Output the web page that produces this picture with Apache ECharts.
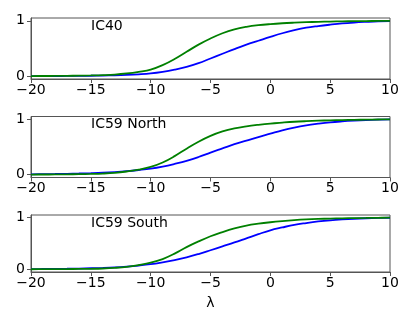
<!DOCTYPE html>
<html>
<head>
<meta charset="utf-8">
<script src="https://cdn.jsdelivr.net/npm/echarts@6/dist/echarts.min.js"></script>
<style>html,body{margin:0;padding:0;background:#fff}#c{width:415px;height:311px}</style>
</head>
<body>
<div id="c"></div>
<script>
var lambdaValues = [-20,-19,-18,-17,-16,-15,-14,-13,-12,-11,-10,-9,-8,-7,-6,-5,-4,-3,-2,-1,0,1,2,3,4,5,6,7,8,9,10];
var panelTitles = ['IC40', 'IC59 North', 'IC59 South'];
var xTicks = [-20, -15, -10, -5, 0, 5, 10];
var yTicks = [0, 1];

var ic40Blue = [0.002,0.003,0.004,0.005,0.007,0.009,0.012,0.016,0.023,0.034,0.05,0.078,0.117,0.167,0.235,0.32,0.405,0.49,0.57,0.64,0.71,0.775,0.83,0.875,0.905,0.93,0.952,0.968,0.98,0.99,0.995];
var ic40Green = [0.003,0.004,0.005,0.007,0.01,0.014,0.02,0.03,0.05,0.08,0.12,0.2,0.31,0.44,0.57,0.68,0.775,0.845,0.89,0.92,0.94,0.955,0.966,0.975,0.981,0.986,0.99,0.993,0.995,0.997,0.998];

var ic59NBlue = [0.008,0.01,0.013,0.017,0.022,0.028,0.036,0.048,0.064,0.085,0.11,0.147,0.195,0.25,0.32,0.40,0.475,0.55,0.615,0.68,0.74,0.80,0.85,0.89,0.92,0.945,0.962,0.975,0.985,0.992,0.997];
var ic59NGreen = [0.003,0.004,0.005,0.007,0.01,0.014,0.021,0.034,0.058,0.09,0.14,0.22,0.335,0.47,0.595,0.70,0.78,0.835,0.872,0.90,0.923,0.94,0.955,0.966,0.975,0.981,0.986,0.99,0.993,0.996,0.998];

var ic59SBlue = [0.006,0.008,0.01,0.013,0.017,0.022,0.029,0.039,0.054,0.074,0.1,0.137,0.18,0.232,0.297,0.37,0.445,0.52,0.60,0.68,0.755,0.81,0.86,0.895,0.925,0.948,0.965,0.978,0.987,0.993,0.997];
var ic59SGreen = [0.003,0.004,0.005,0.007,0.009,0.012,0.018,0.03,0.05,0.085,0.13,0.2,0.305,0.43,0.54,0.64,0.72,0.79,0.845,0.882,0.91,0.932,0.95,0.964,0.974,0.981,0.986,0.99,0.993,0.996,0.998];

var panels = [
  {title: panelTitles[0], blue: ic40Blue, green: ic40Green},
  {title: panelTitles[1], blue: ic59NBlue, green: ic59NGreen},
  {title: panelTitles[2], blue: ic59SBlue, green: ic59SGreen}
];

var FONT = 'DejaVu Sans';
var gridTops = [18, 116.5, 215];
var gridH = 61;

function pairs(ys) { return lambdaValues.map(function (x, i) { return [x, ys[i]]; }); }
function fmt(v) { return String(v).replace('-', '\u2212'); }

var grids = [], xAxes = [], yAxes = [], series = [], titles = [];
panels.forEach(function (p, i) {
  grids.push({left: 31, right: 25, top: gridTops[i], height: gridH, show: true, borderColor: '#555', borderWidth: 1, backgroundColor: 'transparent'});
  xAxes.push({
    type: 'value', gridIndex: i, min: -20, max: 10, interval: 5,
    axisLine: {show: true, onZero: false, lineStyle: {color: '#555', width: 1}},
    axisTick: {show: true, length: 4, lineStyle: {color: '#555'}},
    axisLabel: {color: '#000', fontSize: 14, fontFamily: FONT, margin: 4, formatter: fmt, customValues: xTicks},
    splitLine: {show: false},
    name: i === 2 ? '\u03bb' : '',
    nameLocation: 'middle', nameGap: 24,
    nameTextStyle: {color: '#000', fontSize: 14, fontFamily: FONT}
  });
  yAxes.push({
    type: 'value', gridIndex: i, min: -0.05, max: 1.05, position: 'left',
    axisLine: {show: true, onZero: false, lineStyle: {color: '#555', width: 1}},
    axisTick: {show: true, length: 4, lineStyle: {color: '#555'}, customValues: yTicks},
    axisLabel: {color: '#000', fontSize: 14, fontFamily: FONT, margin: 6, customValues: yTicks, formatter: fmt},
    splitLine: {show: false}
  });
  series.push({type: 'line', xAxisIndex: i, yAxisIndex: i, data: pairs(p.blue), showSymbol: false, smooth: 0.4, lineStyle: {color: '#0000ff', width: 1.8}, silent: true});
  series.push({type: 'line', xAxisIndex: i, yAxisIndex: i, data: pairs(p.green), showSymbol: false, smooth: 0.4, lineStyle: {color: '#008000', width: 1.8}, silent: true});
  titles.push({text: p.title, left: 91, top: gridTops[i] + 1, padding: 0, textStyle: {color: '#000', fontSize: 14, fontWeight: 'normal', fontFamily: FONT}});
});

var chart = echarts.init(document.getElementById('c'), null, {renderer: 'canvas'});
chart.setOption({
  animation: false,
  backgroundColor: '#fff',
  title: titles,
  grid: grids,
  xAxis: xAxes,
  yAxis: yAxes,
  series: series
});
</script>
</body>
</html>
